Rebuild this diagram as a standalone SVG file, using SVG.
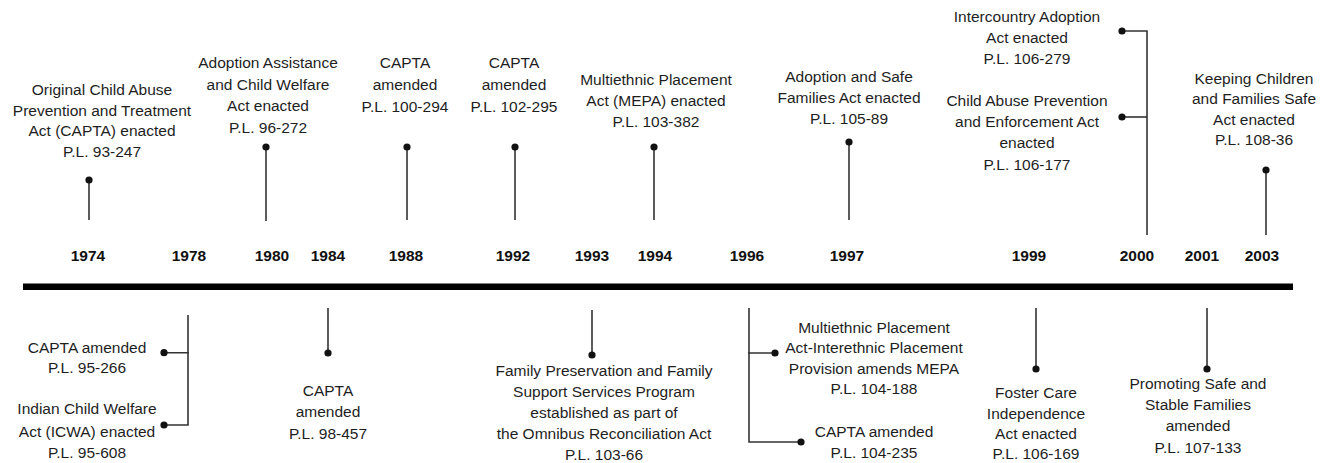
<svg xmlns="http://www.w3.org/2000/svg" width="1332" height="463" viewBox="0 0 1332 463">
<style>
.t{font-family:"Liberation Sans",Arial,sans-serif;font-size:15.5px;fill:#1e1e1e;text-anchor:middle}
.y{font-family:"Liberation Sans",Arial,sans-serif;font-size:15.5px;font-weight:bold;fill:#111;text-anchor:middle}
.c{fill:none;stroke:#333;stroke-width:1.6}
</style>
<defs>
<marker id="dot" viewBox="-5 -5 10 10" markerWidth="10" markerHeight="10" markerUnits="userSpaceOnUse" refX="0" refY="0" orient="auto">
<circle r="3.6" fill="#111"/>
</marker>
</defs>
<rect width="1332" height="463" fill="#fff"/>
<g id="axis">
<line x1="23" y1="286.7" x2="1293" y2="286.7" stroke="#000" stroke-width="6.5"/>
<text class="y" x="88" y="261">1974</text>
<text class="y" x="189" y="261">1978</text>
<text class="y" x="272" y="261">1980</text>
<text class="y" x="328" y="261">1984</text>
<text class="y" x="406" y="261">1988</text>
<text class="y" x="513" y="261">1992</text>
<text class="y" x="592" y="261">1993</text>
<text class="y" x="655" y="261">1994</text>
<text class="y" x="747" y="261">1996</text>
<text class="y" x="847" y="261">1997</text>
<text class="y" x="1029" y="261">1999</text>
<text class="y" x="1137" y="261">2000</text>
<text class="y" x="1202" y="261">2001</text>
<text class="y" x="1262" y="261">2003</text>
</g>
<g id="connectors" class="c">
<path d="M89,180 V220" marker-start="url(#dot)"/>
<path d="M266,147 V221" marker-start="url(#dot)"/>
<path d="M407,147 V220" marker-start="url(#dot)"/>
<path d="M515,147 V220" marker-start="url(#dot)"/>
<path d="M654,147 V220" marker-start="url(#dot)"/>
<path d="M849,142 V220" marker-start="url(#dot)"/>
<path d="M1122,31 H1147 V235" marker-start="url(#dot)"/>
<path d="M1122,117 H1147" marker-start="url(#dot)"/>
<path d="M1266,170 V235" marker-start="url(#dot)"/>
<path d="M164,352.7 H188 V315" marker-start="url(#dot)"/>
<path d="M164,425 H188 V352" marker-start="url(#dot)"/>
<path d="M328,353 V308" marker-start="url(#dot)"/>
<path d="M592,355 V310" marker-start="url(#dot)"/>
<path d="M775,353 H749 V308" marker-start="url(#dot)"/>
<path d="M801,442 H749 V352" marker-start="url(#dot)"/>
<path d="M1036,369 V308" marker-start="url(#dot)"/>
<path d="M1207,369 V308" marker-start="url(#dot)"/>
</g>
<g id="e1974" class="t">
<text x="102" y="95">Original Child Abuse</text>
<text x="102" y="116">Prevention and Treatment</text>
<text x="102" y="136">Act (CAPTA) enacted</text>
<text x="102" y="157">P.L. 93-247</text>
</g>
<g id="e1980" class="t">
<text x="268" y="68">Adoption Assistance</text>
<text x="268" y="90">and Child Welfare</text>
<text x="268" y="111">Act enacted</text>
<text x="268" y="133">P.L. 96-272</text>
</g>
<g id="e1988" class="t">
<text x="405" y="68">CAPTA</text>
<text x="405" y="90">amended</text>
<text x="405" y="112">P.L. 100-294</text>
</g>
<g id="e1992" class="t">
<text x="514" y="68">CAPTA</text>
<text x="514" y="90">amended</text>
<text x="514" y="112">P.L. 102-295</text>
</g>
<g id="e1994" class="t">
<text x="656" y="85">Multiethnic Placement</text>
<text x="656" y="106">Act (MEPA) enacted</text>
<text x="656" y="127">P.L. 103-382</text>
</g>
<g id="e1997" class="t">
<text x="849" y="82">Adoption and Safe</text>
<text x="849" y="103">Families Act enacted</text>
<text x="849" y="124">P.L. 105-89</text>
</g>
<g id="e2000a" class="t">
<text x="1027" y="22">Intercountry Adoption</text>
<text x="1027" y="43">Act enacted</text>
<text x="1027" y="64">P.L. 106-279</text>
</g>
<g id="e2000b" class="t">
<text x="1027" y="106">Child Abuse Prevention</text>
<text x="1027" y="127">and Enforcement Act</text>
<text x="1027" y="148">enacted</text>
<text x="1027" y="170">P.L. 106-177</text>
</g>
<g id="e2003" class="t">
<text x="1254" y="84">Keeping Children</text>
<text x="1254" y="104">and Families Safe</text>
<text x="1254" y="125">Act enacted</text>
<text x="1254" y="145">P.L. 108-36</text>
</g>
<g id="e1978a" class="t">
<text x="87" y="353">CAPTA amended</text>
<text x="87" y="373">P.L. 95-266</text>
</g>
<g id="e1978b" class="t">
<text x="87" y="414">Indian Child Welfare</text>
<text x="87" y="437">Act (ICWA) enacted</text>
<text x="87" y="458">P.L. 95-608</text>
</g>
<g id="e1984" class="t">
<text x="328" y="396">CAPTA</text>
<text x="328" y="417">amended</text>
<text x="328" y="439">P.L. 98-457</text>
</g>
<g id="e1993" class="t">
<text x="604" y="376">Family Preservation and Family</text>
<text x="604" y="397">Support Services Program</text>
<text x="604" y="418">established as part of</text>
<text x="604" y="439">the Omnibus Reconciliation Act</text>
<text x="604" y="460">P.L. 103-66</text>
</g>
<g id="e1996a" class="t">
<text x="874" y="333">Multiethnic Placement</text>
<text x="874" y="353">Act-Interethnic Placement</text>
<text x="874" y="374">Provision amends MEPA</text>
<text x="874" y="394">P.L. 104-188</text>
</g>
<g id="e1996b" class="t">
<text x="874" y="437">CAPTA amended</text>
<text x="874" y="458">P.L. 104-235</text>
</g>
<g id="e1999" class="t">
<text x="1036" y="398">Foster Care</text>
<text x="1036" y="419">Independence</text>
<text x="1036" y="439">Act enacted</text>
<text x="1036" y="459">P.L. 106-169</text>
</g>
<g id="e2001" class="t">
<text x="1198" y="389">Promoting Safe and</text>
<text x="1198" y="410">Stable Families</text>
<text x="1198" y="431">amended</text>
<text x="1198" y="453">P.L. 107-133</text>
</g>
</svg>
